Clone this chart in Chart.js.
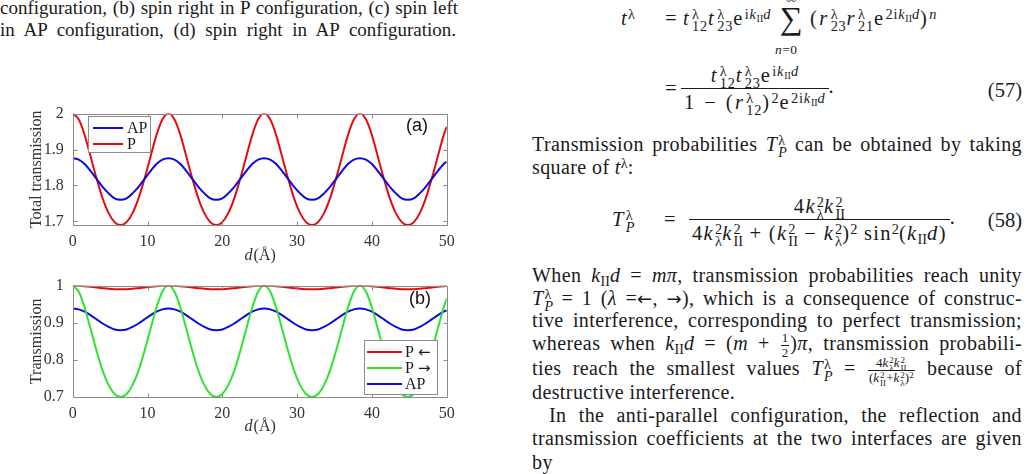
<!DOCTYPE html>
<html><head><meta charset="utf-8">
<script src="https://cdn.jsdelivr.net/npm/chart.js@4.4.1/dist/chart.umd.min.js"></script>
<style>
html,body{margin:0;padding:0;background:#fff;}
body{width:1030px;height:474px;position:relative;overflow:hidden;font-family:'Liberation Serif','Times New Roman',serif;color:#1a1a1a;}
.ln{position:absolute;font-size:20px;letter-spacing:0.4px;line-height:22.5px;height:22.5px;white-space:nowrap;}
.cap{font-size:19px;letter-spacing:0px;}
.j{white-space:normal;text-align:justify;text-align-last:justify;}
i{font-style:italic;}
.ar{font-family:'DejaVu Sans',sans-serif;font-size:0.9em;}
.ss{display:inline-flex;flex-direction:column;font-size:0.7em;line-height:0.85;vertical-align:0.45em;margin:-8px 0 -8px 1px;letter-spacing:0;}
.up{font-size:0.7em;vertical-align:0.45em;line-height:0;letter-spacing:0;}
.dn{font-size:0.7em;vertical-align:-0.3em;line-height:0;letter-spacing:0;}
.fr{display:inline-flex;flex-direction:column;align-items:center;vertical-align:middle;}
.fr .nu{padding:0 3px;line-height:26px;}
.fr .de{padding:0 3px;border-top:1px solid #1a1a1a;line-height:26px;}
.sfr{display:inline-flex;flex-direction:column;align-items:center;vertical-align:middle;font-size:13px;margin:-12px 1px;letter-spacing:0;}
.sfr .nu{line-height:14px;padding:0 1px;}
.sfr .de{line-height:14px;padding:0 1px;border-top:1px solid #1a1a1a;}
.m{position:absolute;font-size:20.5px;line-height:24px;white-space:nowrap;letter-spacing:1.3px;}
.m57{letter-spacing:2.4px;}
.m57 .ss,.m57 .up{letter-spacing:0.8px;}
.wrap{position:absolute;left:0;width:470px;height:170px;}
</style>
</head><body>

<div class="ln cap j" style="left:0;top:-3px;width:458px;">configuration, (b) spin right in P configuration, (c) spin left</div>
<div class="ln cap j" style="left:0;top:19px;width:456px;">in AP configuration, (d) spin right in AP configuration.</div>

<!-- Eq. 57 -->
<div class="m" style="left:621px;top:6px;"><i>t</i><span class="up">λ</span></div>
<div class="m" style="left:665px;top:6px;">=</div>
<div class="m m57" style="left:683px;top:6px;"><i>t</i><span class="ss"><span>λ</span><span>12</span></span><i>t</i><span class="ss"><span>λ</span><span>23</span></span>e<span class="up">i<i>k</i><span class="dn">II</span><i>d</i></span></div>
<div class="m" style="left:780px;top:2px;font-size:32px;line-height:32px;letter-spacing:0;">∑</div>
<div class="m" style="left:786px;top:-10px;font-size:15px;line-height:16px;letter-spacing:0;">∞</div>
<div class="m" style="left:775px;top:42px;font-size:13.5px;line-height:16px;letter-spacing:0.5px;"><i>n</i>=0</div>
<div class="m m57" style="left:810px;top:6px;">(<i>r</i><span class="ss"><span>λ</span><span>23</span></span><i>r</i><span class="ss"><span>λ</span><span>21</span></span>e<span class="up">2i<i>k</i><span class="dn">II</span><i>d</i></span>)<span class="up"><i>n</i></span></div>
<div class="m" style="left:665px;top:76px;">=</div>
<div class="m m57" style="left:681px;top:62px;"><span class="fr"><span class="nu"><i>t</i><span class="ss"><span>λ</span><span>12</span></span><i>t</i><span class="ss"><span>λ</span><span>23</span></span>e<span class="up">i<i>k</i><span class="dn">II</span><i>d</i></span></span><span class="de">1 − (<i>r</i><span class="ss"><span>λ</span><span>12</span></span>)<span class="up">2</span>e<span class="up">2i<i>k</i><span class="dn">II</span><i>d</i></span></span></span>.</div>
<div class="m" style="right:8px;top:78px;letter-spacing:0;">(57)</div>

<div class="ln j" style="left:532px;top:133px;width:490px;">Transmission probabilities <i>T</i><span class="ss"><span>λ</span><i>P</i></span> can be obtained by taking</div>
<div class="ln" style="left:532px;top:156px;">square of <i>t</i><span class="up">λ</span>:</div>

<!-- Eq. 58 -->
<div class="m" style="left:612px;top:207px;"><i>T</i><span class="ss"><span>λ</span><i>P</i></span></div>
<div class="m" style="left:664px;top:207px;">=</div>
<div class="m" style="left:689px;top:193px;"><span class="fr"><span class="nu">4<i>k</i><span class="ss"><span>2</span><span>λ</span></span><i>k</i><span class="ss"><span>2</span><span>II</span></span></span><span class="de">4<i>k</i><span class="ss"><span>2</span><span>λ</span></span><i>k</i><span class="ss"><span>2</span><span>II</span></span> + (<i>k</i><span class="ss"><span>2</span><span>II</span></span> − <i>k</i><span class="ss"><span>2</span><span>λ</span></span>)<span class="up">2</span> sin<span class="up">2</span>(<i>k</i><span class="dn">II</span><i>d</i>)</span></span>.</div>
<div class="m" style="right:8px;top:208px;letter-spacing:0;">(58)</div>

<div class="ln j" style="left:532px;top:264px;width:490px;">When <i>k</i><span class="dn">II</span><i>d</i> = <i>mπ</i>, transmission probabilities reach unity</div>
<div class="ln j" style="left:532px;top:287px;width:490px;"><i>T</i><span class="ss"><span>λ</span><i>P</i></span> = 1 (<i>λ</i> =<span class="ar">←</span>, <span class="ar">→</span>), which is a consequence of construc-</div>
<div class="ln j" style="left:532px;top:309px;width:490px;">tive interference, corresponding to perfect transmission;</div>
<div class="ln j" style="left:532px;top:332px;width:490px;">whereas when <i>k</i><span class="dn">II</span><i>d</i> = (<i>m</i> + <span class="sfr"><span class="nu">1</span><span class="de">2</span></span>)<i>π</i>, transmission probabili-</div>
<div class="ln j" style="left:532px;top:357px;width:490px;">ties reach the smallest values <i>T</i><span class="ss"><span>λ</span><i>P</i></span> = <span class="sfr"><span class="nu">4<i>k</i><span class="ss"><span>2</span><span>λ</span></span><i>k</i><span class="ss"><span>2</span><span>II</span></span></span><span class="de">(<i>k</i><span class="ss"><span>2</span><span>II</span></span>+<i>k</i><span class="ss"><span>2</span><span>λ</span></span>)<span class="up">2</span></span></span> because of</div>
<div class="ln" style="left:532px;top:381px;">destructive interference.</div>
<div class="ln j" style="left:532px;top:404px;width:490px;text-indent:17px;">In the anti-parallel configuration, the reflection and</div>
<div class="ln j" style="left:532px;top:427px;width:490px;">transmission coefficients at the two interfaces are given</div>
<div class="ln" style="left:532px;top:451px;">by</div>

<div class="wrap" style="top:95px;"><canvas id="ca" width="470" height="170"></canvas></div>
<div class="wrap" style="top:267px;"><canvas id="cb" width="470" height="170"></canvas></div>

<script>
// ---- data ----
const D = [
  0,0.8,1.6,2.4,3.2,4,4.8,5.6,6.4,7.2,8,8.8,9.6,10.4,11.2,12,
  12.8,13.6,14.4,15.2,16,16.8,17.6,18.4,19.2,20,20.8,21.6,22.4,23.2,24,24.8,
  25.6,26.4,27.2,28,28.8,29.6,30.4,31.2,32,32.8,33.6,34.4,35.2,36,36.8,37.6,
  38.4,39.2,40,40.8,41.6,42.4,43.2,44,44.8,45.6,46.4,47.2,48,48.8,49.6,50
];
const P_TOTAL = [
  2.000,1.984,1.940,1.880,1.819,1.764,1.723,1.698,1.690,1.698,1.723,1.764,1.819,1.880,1.940,1.984,
  2.000,1.984,1.940,1.880,1.819,1.764,1.723,1.698,1.690,1.698,1.723,1.764,1.819,1.880,1.940,1.984,
  2.000,1.984,1.940,1.880,1.819,1.764,1.723,1.698,1.690,1.698,1.723,1.764,1.819,1.880,1.940,1.984,
  2.000,1.984,1.940,1.880,1.819,1.764,1.723,1.698,1.690,1.698,1.723,1.764,1.819,1.880,1.940,1.964
];
const AP_TOTAL = [
  1.876,1.872,1.860,1.840,1.818,1.796,1.778,1.764,1.760,1.764,1.778,1.796,1.818,1.840,1.860,1.872,
  1.876,1.872,1.860,1.840,1.818,1.796,1.778,1.764,1.760,1.764,1.778,1.796,1.818,1.840,1.860,1.872,
  1.876,1.872,1.860,1.840,1.818,1.796,1.778,1.764,1.760,1.764,1.778,1.796,1.818,1.840,1.860,1.872,
  1.876,1.872,1.860,1.840,1.818,1.796,1.778,1.764,1.760,1.764,1.778,1.796,1.818,1.840,1.860,1.866
];
const P_LEFT = [
  1.000,0.9996,0.9985,0.9969,0.9950,0.9931,0.9914,0.9904,0.9900,0.9904,0.9914,0.9931,0.9950,0.9969,0.9985,0.9996,
  1.000,0.9996,0.9985,0.9969,0.9950,0.9931,0.9914,0.9904,0.9900,0.9904,0.9914,0.9931,0.9950,0.9969,0.9985,0.9996,
  1.000,0.9996,0.9985,0.9969,0.9950,0.9931,0.9914,0.9904,0.9900,0.9904,0.9914,0.9931,0.9950,0.9969,0.9985,0.9996,
  1.000,0.9996,0.9985,0.9969,0.9950,0.9931,0.9914,0.9904,0.9900,0.9904,0.9914,0.9931,0.9950,0.9969,0.9985,0.9992
];
const P_RIGHT = [
  1.000,0.984,0.941,0.883,0.824,0.771,0.732,0.708,0.700,0.708,0.732,0.771,0.824,0.883,0.941,0.984,
  1.000,0.984,0.941,0.883,0.824,0.771,0.732,0.708,0.700,0.708,0.732,0.771,0.824,0.883,0.941,0.984,
  1.000,0.984,0.941,0.883,0.824,0.771,0.732,0.708,0.700,0.708,0.732,0.771,0.824,0.883,0.941,0.984,
  1.000,0.984,0.941,0.883,0.824,0.771,0.732,0.708,0.700,0.708,0.732,0.771,0.824,0.883,0.941,0.965
];
const AP_B = [
  0.938,0.936,0.930,0.920,0.909,0.898,0.889,0.882,0.880,0.882,0.889,0.898,0.909,0.920,0.930,0.936,
  0.938,0.936,0.930,0.920,0.909,0.898,0.889,0.882,0.880,0.882,0.889,0.898,0.909,0.920,0.930,0.936,
  0.938,0.936,0.930,0.920,0.909,0.898,0.889,0.882,0.880,0.882,0.889,0.898,0.909,0.920,0.930,0.936,
  0.938,0.936,0.930,0.920,0.909,0.898,0.889,0.882,0.880,0.882,0.889,0.898,0.909,0.920,0.930,0.933
];
const X_TICKS = [0,10,20,30,40,50];
const X_TICK_LABELS = ['0','10','20','30','40','50'];
const Y_TICKS_A = [1.7,1.8,1.9,2];
const Y_TICK_LABELS_A = ['1.7','1.8','1.9','2'];
const Y_TICKS_B = [0.7,0.8,0.9,1];
const Y_TICK_LABELS_B = ['0.7','0.8','0.9','1'];
const SERIES_A = ['AP','P'];
const SERIES_B = ['P \u2190','P \u2192','AP'];

// ---- styling ----
const RED='rgb(228,12,16)', BLUE='rgb(10,10,225)', GREEN='rgb(45,228,45)';
const SERIF="'Liberation Serif','Times New Roman',serif";
const FRAME='#8c8c8c', TXT='#333333';

const pts = arr => D.map((d,i)=>({x:d,y:arr[i]}));

function drawLabel(ctx, text, x, y){
  let cx=x;
  for (const ch of text){
    const isArrow = ch==='\u2190' || ch==='\u2192';
    ctx.font = isArrow ? "15px 'DejaVu Sans',sans-serif" : '16px '+SERIF;
    ctx.fillText(ch,cx,y);
    cx += ctx.measureText(ch).width;
  }
}

const deco = {
  id:'deco',
  afterDatasetsDraw(chart, args, o){
    const {ctx, chartArea:a, scales:{x,y}} = chart;
    ctx.save();
    ctx.strokeStyle=FRAME; ctx.lineWidth=1;
    const L=Math.round(a.left)+0.5, R=Math.round(a.right)+0.5, T=Math.round(a.top)+0.5, B=Math.round(a.bottom)+0.5;
    ctx.beginPath();
    ctx.rect(L,T,R-L,B-T);
    const tl=4;
    x.ticks.forEach(t=>{const p=Math.round(x.getPixelForValue(t.value))+0.5;
      ctx.moveTo(p,B);ctx.lineTo(p,B-tl);ctx.moveTo(p,T);ctx.lineTo(p,T+tl);});
    y.ticks.forEach(t=>{const p=Math.round(y.getPixelForValue(t.value))+0.5;
      ctx.moveTo(L,p);ctx.lineTo(L+tl,p);ctx.moveTo(R,p);ctx.lineTo(R-tl,p);});
    ctx.stroke();
    // legend
    const lg=o.legend;
    ctx.fillStyle='#fff';
    ctx.fillRect(lg.x0,lg.y0,lg.x1-lg.x0,lg.y1-lg.y0);
    ctx.strokeStyle=FRAME;
    ctx.strokeRect(lg.x0+0.5,lg.y0+0.5,lg.x1-lg.x0,lg.y1-lg.y0);
    ctx.textBaseline='middle'; ctx.textAlign='left';
    chart.data.datasets.forEach((ds,i)=>{
      const yy=lg.row0+i*lg.rowH;
      ctx.strokeStyle=ds.borderColor; ctx.lineWidth=2;
      ctx.beginPath(); ctx.moveTo(lg.lx0,yy); ctx.lineTo(lg.lx1,yy); ctx.stroke();
      ctx.fillStyle='#1a1a1a'; drawLabel(ctx, ds.label, lg.tx, yy+1);
    });
    // panel tag
    ctx.font="18px 'Liberation Sans','DejaVu Sans',sans-serif"; ctx.fillStyle='#111';
    ctx.fillText(o.tag,o.tagX,o.tagY);
    // x title: d(Å)
    const cx=(a.left+a.right)/2;
    ctx.font='italic 16px '+SERIF; const w1=ctx.measureText('d').width;
    ctx.font='16px '+SERIF; const w2=ctx.measureText('(Å)').width;
    const sx=cx-(w1+w2)/2;
    ctx.fillStyle=TXT;
    ctx.font='italic 16px '+SERIF; ctx.fillText('d',sx,o.xTitleY);
    ctx.font='16px '+SERIF; ctx.fillText('(Å)',sx+w1+1,o.xTitleY);
    ctx.restore();
  }
};

function makeChart(id, datasets, yMin, yMax, yTicks, yLabels, yTitle, padTop, decoOpts){
  return new Chart(document.getElementById(id), {
    type:'line',
    data:{datasets},
    options:{
      responsive:false, animation:false, devicePixelRatio:1,
      layout:{padding:{top:padTop,right:23.3,left:0,bottom:0}},
      elements:{point:{radius:0},line:{borderWidth:2,tension:0,cubicInterpolationMode:'monotone'}},
      plugins:{legend:{display:false},tooltip:{enabled:false},deco:decoOpts},
      scales:{
        x:{type:'linear',min:0,max:50,
          afterBuildTicks:s=>{s.ticks=X_TICKS.map(v=>({value:v}));},
          afterFit:s=>{s.height=40;},
          grid:{display:false,drawTicks:false},border:{display:false},
          ticks:{padding:7,color:TXT,font:{family:SERIF,size:16},maxRotation:0,
            callback:(v,i)=>X_TICK_LABELS[i]}},
        y:{type:'linear',min:yMin,max:yMax,
          afterBuildTicks:s=>{s.ticks=yTicks.map(v=>({value:v}));},
          afterFit:s=>{s.width=72.7;},
          grid:{display:false,drawTicks:false},border:{display:false},
          title:{display:true,text:yTitle,color:TXT,font:{family:SERIF,size:16},padding:{top:27.4,bottom:0}},
          ticks:{padding:9,color:TXT,font:{family:SERIF,size:16},
            callback:(v,i)=>yLabels[i]}}
      }
    },
    plugins:[deco]
  });
}

makeChart('ca', [
  {label:SERIES_A[0], data:pts(AP_TOTAL), borderColor:BLUE},
  {label:SERIES_A[1], data:pts(P_TOTAL), borderColor:RED}
], 1.69, 2.0, Y_TICKS_A, Y_TICK_LABELS_A, 'Total transmission', 15.7,
  {legend:{x0:88,y0:21,x1:150,y1:57,row0:33,rowH:16,lx0:93,lx1:123,tx:127}, tag:'(a)', tagX:406, tagY:31, xTitleY:161});

makeChart('cb', [
  {label:SERIES_B[0], data:pts(P_LEFT), borderColor:RED},
  {label:SERIES_B[1], data:pts(P_RIGHT), borderColor:GREEN},
  {label:SERIES_B[2], data:pts(AP_B), borderColor:BLUE}
], 0.7, 1.0, Y_TICKS_B, Y_TICK_LABELS_B, 'Transmission', 16.3,
  {legend:{x0:364,y0:73,x1:437,y1:127,row0:85,rowH:16,lx0:367,lx1:402,tx:405}, tag:'(b)', tagX:409, tagY:32, xTitleY:160});
</script>
</body></html>
